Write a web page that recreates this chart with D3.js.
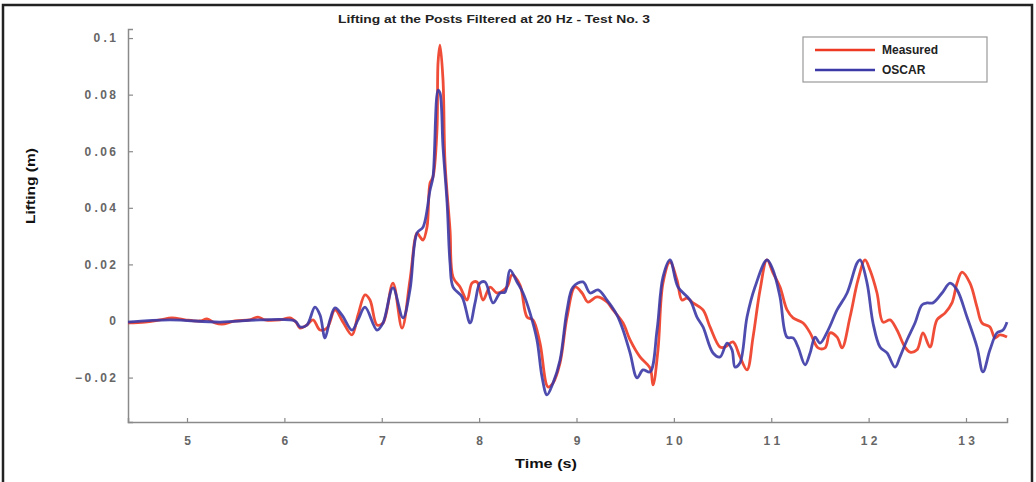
<!DOCTYPE html>
<html lang="en">
  <head>
    <meta charset="UTF-8" />
    <title>Lifting at the Posts</title>
    <script src="https://d3js.org/d3.v7.min.js"></script>
    <style>
      body { margin: 0; background: #fff; }
      text { font-family: "Liberation Sans", Arial, sans-serif; }
    </style>
  </head>
  <body>
    <svg width="1036" height="482"></svg>
    <script>
      // data (time in s, lifting in m)
      const measuredT = [4.394, 4.569, 4.723, 4.846, 4.979, 5.134, 5.205, 5.288, 5.359, 5.493, 5.647, 5.729, 5.801, 5.955, 6.058, 6.119, 6.16, 6.232, 6.294, 6.366, 6.438, 6.52, 6.602, 6.694, 6.756, 6.828, 6.879, 6.951, 7.013, 7.115, 7.208, 7.29, 7.362, 7.393, 7.424, 7.465, 7.496, 7.526, 7.567, 7.578, 7.598, 7.629, 7.65, 7.701, 7.732, 7.804, 7.876, 7.927, 7.978, 8.04, 8.112, 8.184, 8.286, 8.338, 8.42, 8.492, 8.553, 8.625, 8.707, 8.759, 8.831, 8.903, 8.985, 9.057, 9.118, 9.211, 9.313, 9.375, 9.478, 9.55, 9.652, 9.755, 9.786, 9.837, 9.888, 9.96, 10.032, 10.083, 10.135, 10.196, 10.299, 10.371, 10.474, 10.525, 10.607, 10.679, 10.751, 10.813, 10.885, 10.956, 11.018, 11.09, 11.162, 11.224, 11.327, 11.399, 11.481, 11.553, 11.604, 11.676, 11.727, 11.809, 11.891, 11.963, 12.014, 12.086, 12.148, 12.22, 12.291, 12.373, 12.425, 12.497, 12.558, 12.63, 12.702, 12.784, 12.856, 12.908, 12.959, 13.041, 13.113, 13.164, 13.246, 13.297, 13.349, 13.421];
      const measuredV = [-0.0007, -0.0004, 0.0004, 0.0011, 0.0004, 0, 0.0007, -0.0007, -0.0011, 0, 0.0004, 0.0014, 0.0004, 0.0004, 0.0011, -0.0004, -0.0025, -0.0014, 0.0004, -0.0032, -0.0025, 0.0039, -0.0004, -0.0049, 0.0021, 0.0092, 0.0074, -0.0014, -0.0007, 0.0134, -0.0025, 0.0145, 0.0311, 0.0297, 0.0286, 0.0332, 0.0488, 0.0509, 0.0675, 0.0912, 0.0975, 0.0852, 0.0558, 0.0322, 0.0155, 0.012, 0.0074, 0.0134, 0.0138, 0.0074, 0.012, 0.0099, 0.012, 0.0163, 0.0127, 0.0014, 0.0004, -0.0078, -0.0233, -0.0219, -0.0148, 0.0014, 0.012, 0.0099, 0.0067, 0.0085, 0.0067, 0.0039, -0.0007, -0.0067, -0.0127, -0.0166, -0.0226, -0.0102, 0.0134, 0.0208, 0.0145, 0.0074, 0.0081, 0.0064, 0.0039, -0.0021, -0.0092, -0.0092, -0.0074, -0.0127, -0.0173, -0.0057, 0.011, 0.0216, 0.017, 0.012, 0.0039, 0.0011, -0.0007, -0.0042, -0.0095, -0.0095, -0.0042, -0.0057, -0.0095, 0.0014, 0.0145, 0.0216, 0.018, 0.0099, -0.0004, 0.0004, -0.0032, -0.0092, -0.011, -0.0102, -0.0042, -0.0092, 0.0004, 0.0028, 0.0064, 0.0134, 0.0173, 0.0134, 0.0049, -0.0007, -0.0021, -0.006, -0.0049, -0.0057];

      const oscarT = [4.394, 4.825, 5.339, 5.75, 6.109, 6.16, 6.232, 6.314, 6.366, 6.417, 6.468, 6.52, 6.592, 6.694, 6.756, 6.828, 6.951, 7.013, 7.115, 7.218, 7.29, 7.362, 7.424, 7.496, 7.526, 7.578, 7.598, 7.629, 7.671, 7.701, 7.732, 7.825, 7.907, 7.958, 8.009, 8.061, 8.143, 8.215, 8.266, 8.317, 8.389, 8.451, 8.523, 8.594, 8.646, 8.697, 8.759, 8.831, 8.903, 8.964, 9.067, 9.139, 9.221, 9.313, 9.416, 9.478, 9.55, 9.622, 9.683, 9.755, 9.827, 9.888, 9.96, 10.042, 10.166, 10.237, 10.299, 10.402, 10.474, 10.546, 10.597, 10.628, 10.679, 10.751, 10.833, 10.956, 11.018, 11.09, 11.162, 11.224, 11.275, 11.347, 11.399, 11.45, 11.501, 11.584, 11.676, 11.779, 11.881, 11.912, 11.984, 12.045, 12.117, 12.189, 12.271, 12.322, 12.394, 12.476, 12.548, 12.6, 12.661, 12.754, 12.836, 12.908, 13.01, 13.113, 13.174, 13.246, 13.318, 13.38, 13.421];
      const oscarV = [-0.0004, 0.0004, -0.0004, 0.0004, 0, -0.0021, -0.0014, 0.0049, 0.0021, -0.006, 0.0004, 0.0046, 0.0021, -0.0032, 0.0004, 0.0049, -0.0032, -0.0007, 0.0117, 0.0011, 0.011, 0.0311, 0.0332, 0.0463, 0.0509, 0.0816, 0.0806, 0.0615, 0.0417, 0.0205, 0.012, 0.0085, -0.0007, 0.0064, 0.0134, 0.0138, 0.0064, 0.0099, 0.0102, 0.018, 0.0138, 0.0099, 0.0028, -0.0067, -0.0198, -0.0261, -0.0219, -0.0138, 0.0039, 0.012, 0.0138, 0.0099, 0.011, 0.0074, 0.0021, -0.0032, -0.0113, -0.0201, -0.0173, -0.018, -0.0032, 0.0155, 0.0216, 0.012, 0.0074, 0.0014, -0.0021, -0.0113, -0.0127, -0.0078, -0.0102, -0.0163, -0.0148, 0.0014, 0.012, 0.0216, 0.018, 0.0085, -0.0057, -0.006, -0.0092, -0.0155, -0.0113, -0.0057, -0.0078, -0.0032, 0.0039, 0.0099, 0.0205, 0.0216, 0.0134, -0.0007, -0.0092, -0.0113, -0.0163, -0.0127, -0.0067, -0.0007, 0.0057, 0.0064, 0.0064, 0.0099, 0.0134, 0.011, 0.0014, -0.0092, -0.018, -0.0102, -0.0042, -0.0032, -0.0004];

      const xTicks = [5, 6, 7, 8, 9, 10, 11, 12, 13];
      const yTicks = [-0.02, 0, 0.02, 0.04, 0.06, 0.08, 0.1];
      const seriesNames = ["Measured", "OSCAR"];
      const seriesColors = ["#ee3a22", "#3b3aa6"];

      const svg = d3.select("svg");

      // outer frame
      svg.append("rect")
        .attr("x", 3).attr("y", 5)
        .attr("width", 1029).attr("height", 490)
        .attr("fill", "none").attr("stroke", "#222").attr("stroke-width", 2.5);

      const x = d3.scaleLinear().domain([4.394, 13.421]).range([128, 1007]);
      const y = d3.scaleLinear().domain([-0.0357, 0.1032]).range([422, 29]);

      // axes
      const xAxis = svg.append("g").attr("transform", "translate(0,422)")
        .call(d3.axisBottom(x).tickValues(xTicks).tickSize(-4).tickPadding(14)
          .tickFormat(d => String(d).split("").join(" ")));
      const yAxis = svg.append("g").attr("transform", "translate(128,0)")
        .call(d3.axisLeft(y).tickValues(yTicks).tickSize(-5).tickPadding(12)
          .tickFormat(d => {
            if (d === 0) return "0";
            let s = d3.format(".2~f")(d);
            return s.replace(".", " .").split("").join("\u2009").replace(/\u2009 \u2009/g, " ");
          }));

      [xAxis, yAxis].forEach(g => {
        g.select(".domain").attr("stroke", "#8a8a8a").attr("stroke-width", 1.5);
        g.selectAll(".tick line").attr("stroke", "#8a8a8a").attr("stroke-width", 1.2);
        g.selectAll(".tick text")
          .attr("fill", "#666").attr("font-size", 12).attr("font-weight", "bold")
          .style("font-family", "'Liberation Sans', Arial, sans-serif");
      });

      // lines
      const line = d3.line().x(d => x(d[0])).y(d => y(d[1])).curve(d3.curveCatmullRom.alpha(0.5));
      const measured = measuredT.map((t, i) => [t, measuredV[i]]);
      const oscar = oscarT.map((t, i) => [t, oscarV[i]]);

      svg.append("path").datum(measured)
        .attr("d", line).attr("fill", "none")
        .attr("stroke", seriesColors[0]).attr("stroke-width", 2.8)
        .attr("stroke-linejoin", "round").attr("opacity", 0.9);
      svg.append("path").datum(oscar)
        .attr("d", line).attr("fill", "none")
        .attr("stroke", seriesColors[1]).attr("stroke-width", 2.8)
        .attr("stroke-linejoin", "round").attr("opacity", 0.9);

      // title and axis labels
      svg.append("text").attr("x", 494).attr("y", 23)
        .attr("text-anchor", "middle").attr("font-size", 11).attr("font-weight", "bold")
        .attr("fill", "#222").attr("textLength", 312).attr("lengthAdjust", "spacingAndGlyphs")
        .text("Lifting at the Posts Filtered at 20 Hz - Test No. 3");
      svg.append("text").attr("x", 546).attr("y", 468)
        .attr("text-anchor", "middle").attr("font-size", 13).attr("font-weight", "bold")
        .attr("fill", "#111").attr("textLength", 62).attr("lengthAdjust", "spacingAndGlyphs")
        .text("Time (s)");
      svg.append("text")
        .attr("transform", "translate(35,186) rotate(-90)")
        .attr("text-anchor", "middle").attr("font-size", 13).attr("font-weight", "bold")
        .attr("fill", "#111").attr("textLength", 76).attr("lengthAdjust", "spacingAndGlyphs")
        .text("Lifting (m)");

      // legend
      const lg = svg.append("g").attr("transform", "translate(803,37)");
      lg.append("rect").attr("width", 184).attr("height", 45)
        .attr("fill", "#fff").attr("stroke", "#999").attr("stroke-width", 1.2);
      seriesNames.forEach((name, i) => {
        lg.append("line").attr("x1", 12).attr("x2", 72)
          .attr("y1", 13 + i * 20).attr("y2", 13 + i * 20)
          .attr("stroke", seriesColors[i]).attr("stroke-width", 2.6);
        lg.append("text").attr("x", 79).attr("y", 17 + i * 20)
          .attr("font-size", 12).attr("font-weight", "bold").attr("fill", "#222")
          .text(name);
      });
    </script>
  </body>
</html>
